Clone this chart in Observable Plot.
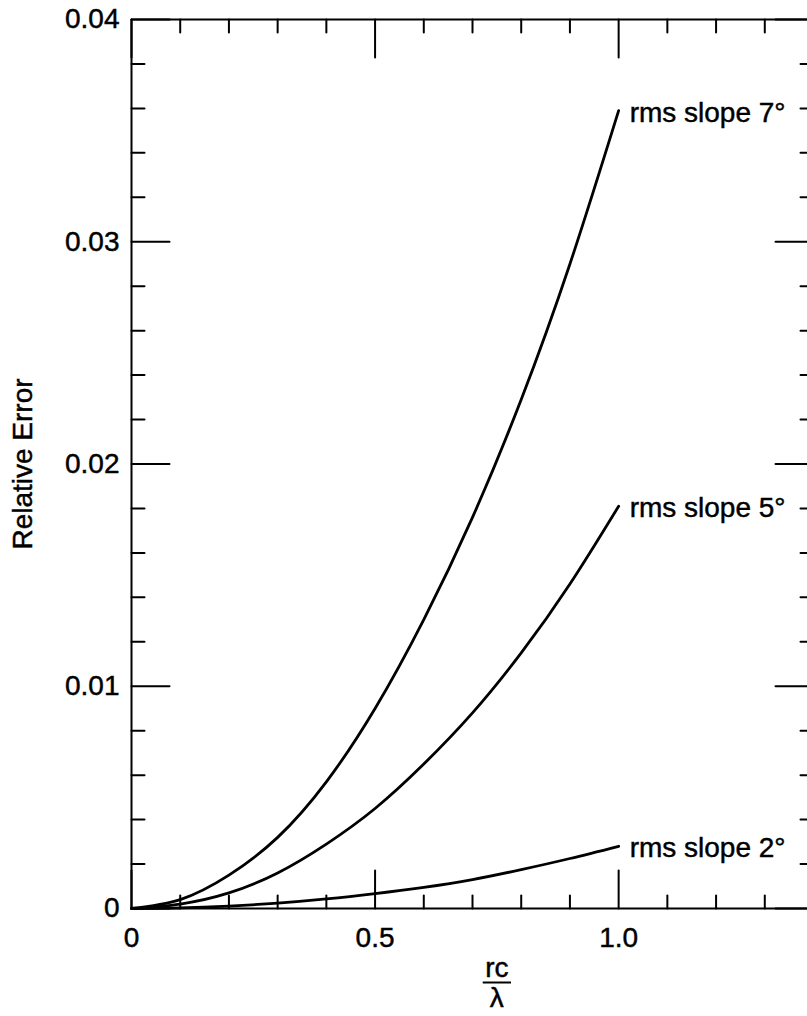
<!DOCTYPE html>
<html>
<head>
<meta charset="utf-8">
<script src="https://cdn.jsdelivr.net/npm/d3@7"></script>
<script src="https://cdn.jsdelivr.net/npm/@observablehq/plot@0.6"></script>
<style>
  body { margin: 0; background: #fff; }
  svg { display: block; }
  svg text { stroke: black; stroke-width: 0.45px; }
</style>
</head>
<body>
<div id="chart"></div>
<script>
// x values: rc / lambda
const rcOverLambda = [0, 0.1, 0.2, 0.3, 0.4, 0.5, 0.6, 0.7, 0.8, 0.9, 1.0];
// Relative error for each rms slope
const slope7 = [0, 0.0004, 0.0015, 0.0032, 0.0057, 0.0090, 0.0130, 0.0176, 0.0229, 0.0290, 0.0359];
const slope5 = [0, 0.0002, 0.0007, 0.0016, 0.0029, 0.0045, 0.0065, 0.0088, 0.0115, 0.0146, 0.0181];
const slope2 = [0, 0.00003, 0.00011, 0.00024, 0.00043, 0.00067, 0.00095, 0.0013, 0.00175, 0.00225, 0.0028];
const seriesLabels = ["rms slope 7°", "rms slope 5°", "rms slope 2°"];

// axis ticks
const xMajorTicks = [0, 0.5, 1.0];
const xTickLabels = ["0", "0.5", "1.0"];
const xMinorTicks = [0.1, 0.2, 0.3, 0.4, 0.6, 0.7, 0.8, 0.9, 1.1, 1.2, 1.3];
const yMajorTicks = [0, 0.01, 0.02, 0.03, 0.04];
const yTickLabels = ["0", "0.01", "0.02", "0.03", "0.04"];
const yMinorTicks = [0.002, 0.004, 0.006, 0.008, 0.012, 0.014, 0.016, 0.018,
                     0.022, 0.024, 0.026, 0.028, 0.032, 0.034, 0.036, 0.038];
const xDomain = [0, 1.4];
const yDomain = [0, 0.04];
const yLabel = "Relative Error";
const xLabelTop = "rc";
const xLabelBottom = "λ";

const allSeries = [slope7, slope5, slope2];
const rows = [];
allSeries.forEach((s, k) => s.forEach((v, i) => rows.push({series: seriesLabels[k], x: rcOverLambda[i], y: v})));
const ends = allSeries.map((s, k) => ({series: seriesLabels[k], x: rcOverLambda[rcOverLambda.length - 1], y: s[s.length - 1]}));

const tickShape = {draw(ctx, l) { ctx.moveTo(0, 0); ctx.lineTo(0, -l); }};
const FONT = "Liberation Sans, Arial, Helvetica, sans-serif";
const MAJOR = 38, MINOR = 13, TW = 2;

function ticks(data, side, len) {
  const common = {length: len, anchor: "start", shape: tickShape, stroke: "black", strokeWidth: TW};
  if (side === "bottom") return Plot.vector(data, {...common, x: d => d, y: yDomain[0], rotate: 0});
  if (side === "top") return Plot.vector(data, {...common, x: d => d, y: yDomain[1], rotate: 180});
  if (side === "left") return Plot.vector(data, {...common, x: xDomain[0], y: d => d, rotate: 90});
  return Plot.vector(data, {...common, x: xDomain[1], y: d => d, rotate: -90});
}

const plot = Plot.plot({
  width: 807,
  height: 1016,
  marginLeft: 131,
  marginRight: 0,
  marginTop: 19,
  marginBottom: 108,
  style: {fontFamily: FONT, fontSize: "28px", background: "#fff", color: "black"},
  x: {domain: xDomain, range: [131, 813]},
  y: {domain: yDomain, range: [908, 19]},
  marks: [
    // frame
    Plot.ruleY(yDomain, {stroke: "black", strokeWidth: TW}),
    Plot.ruleX(xDomain, {stroke: "black", strokeWidth: TW}),
    // inward ticks on all four sides
    ticks(xMajorTicks, "bottom", MAJOR), ticks(xMinorTicks, "bottom", MINOR),
    ticks(xMajorTicks, "top", MAJOR), ticks(xMinorTicks, "top", MINOR),
    ticks(yMajorTicks, "left", MAJOR), ticks(yMinorTicks, "left", MINOR),
    ticks(yMajorTicks, "right", MAJOR), ticks(yMinorTicks, "right", MINOR),
    // tick labels
    Plot.axisX(xMajorTicks, {anchor: "bottom", tickSize: 0, tickPadding: 19, fontSize: 28,
      tickFormat: d => xTickLabels[xMajorTicks.indexOf(d)], label: null}),
    Plot.axisY(yMajorTicks, {anchor: "left", tickSize: 0, tickPadding: 12, fontSize: 28,
      tickFormat: d => yTickLabels[yMajorTicks.indexOf(d)], label: null}),
    // curves
    Plot.line(rows, {x: "x", y: "y", z: "series", stroke: "black", strokeWidth: 2.8, curve: "natural"}),
    Plot.text(ends, {x: "x", y: "y", text: "series", textAnchor: "start", lineAnchor: "middle",
      dx: 11, dy: 2, fontSize: 28, fill: "black"}),
    // y label
    Plot.text([yLabel], {frameAnchor: "left", y: 0.02, dx: -108, rotate: -90, textAnchor: "middle",
      lineAnchor: "middle", fontSize: 28, fill: "black"}),
    // x label as fraction rc / λ
    Plot.text([xLabelTop], {x: 0.75, y: 0, dy: 60, lineAnchor: "middle", fontSize: 28, fill: "black"}),
    Plot.ruleY([0], {x1: 0.722, x2: 0.78, dy: 74, stroke: "black", strokeWidth: 2}),
    Plot.text([xLabelBottom], {x: 0.75, y: 0, dy: 90, lineAnchor: "middle", fontSize: 28, fill: "black"})
  ]
});
document.getElementById("chart").appendChild(plot);
</script>
</body>
</html>
